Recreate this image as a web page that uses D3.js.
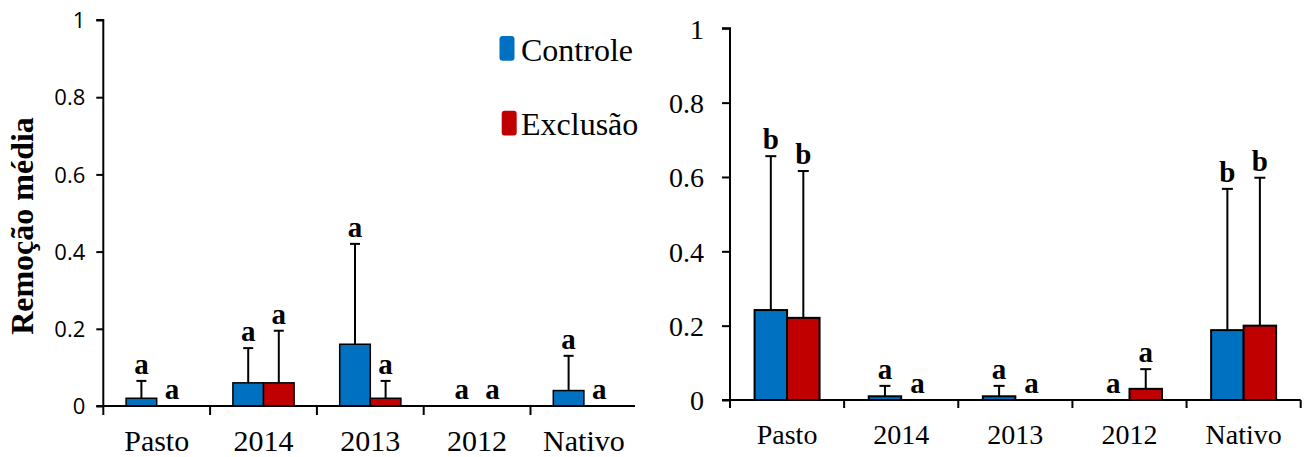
<!DOCTYPE html>
<html><head><meta charset="utf-8">
<script src="https://cdn.jsdelivr.net/npm/d3@7"></script>
<style>body{margin:0;background:#fff;}svg{display:block;}</style>
</head><body>
<svg id="chart" width="1312" height="457"></svg>
<script>
// ---- data ----
const categories = ["Pasto", "2014", "2013", "2012", "Nativo"];
const seriesNames = ["Controle", "Exclusão"];
const yTicks = [0, 0.2, 0.4, 0.6, 0.8, 1];

// left panel
const leftControle = [0.02, 0.06, 0.16, 0, 0.04];
const leftControleErr = [0.045, 0.09, 0.26, 0, 0.09];
const leftExclusao = [0, 0.06, 0.02, 0, 0];
const leftExclusaoErr = [0, 0.135, 0.045, 0, 0];
const leftLettersControle = ["a", "a", "a", "a", "a"];
const leftLettersExclusao = ["a", "a", "a", "a", "a"];

// right panel
const rightControle = [0.242, 0.01, 0.01, 0, 0.188];
const rightControleErr = [0.414, 0.028, 0.028, 0, 0.38];
const rightExclusao = [0.221, 0, 0, 0.03, 0.2];
const rightExclusaoErr = [0.395, 0, 0, 0.053, 0.398];
const rightLettersControle = ["b", "a", "a", "a", "b"];
const rightLettersExclusao = ["b", "a", "a", "a", "b"];

const colors = ["#0070C0", "#C00000"];

const svg = d3.select("#chart");

function panel(cfg) {
  const x = d3.scaleBand(categories, [cfg.x0, cfg.x1]);
  const y = d3.scaleLinear([0, 1], [cfg.y0, cfg.y1]);
  const g = svg.append("g");
  const series = [
    {vals: cfg.c, err: cfg.ce, letters: cfg.lc, color: colors[0], off: -cfg.bw},
    {vals: cfg.e, err: cfg.ee, letters: cfg.le, color: colors[1], off: 0}
  ];
  series.forEach(s => {
    categories.forEach((cat, i) => {
      const cx = x(cat) + x.bandwidth() / 2 + s.off;
      const v = s.vals[i];
      if (v > 0) {
        g.append("rect")
          .attr("x", cx).attr("y", y(v))
          .attr("width", cfg.bw).attr("height", y(0) - y(v))
          .attr("fill", s.color).attr("stroke", "#000").attr("stroke-width", cfg.sw);
      }
      const top = v + s.err[i];
      if (s.err[i] > 0) {
        const mx = cx + cfg.bw / 2;
        g.append("line").attr("x1", mx).attr("x2", mx)
          .attr("y1", y(v)).attr("y2", y(top))
          .attr("stroke", "#000").attr("stroke-width", 2);
        g.append("line").attr("x1", mx - cfg.cap / 2).attr("x2", mx + cfg.cap / 2)
          .attr("y1", y(top)).attr("y2", y(top))
          .attr("stroke", "#000").attr("stroke-width", 2);
      }
      g.append("text")
        .attr("x", cx + cfg.bw / 2).attr("y", y(top) - 7)
        .attr("text-anchor", "middle")
        .attr("font-family", "'Liberation Serif', serif").attr("font-weight", "bold")
        .attr("font-size", cfg.letterSize).attr("fill", "#000")
        .text(s.letters[i]);
    });
  });

  // y axis
  const ya = d3.axisLeft(y).tickValues(yTicks).tickFormat(d3.format("~g"))
    .tickSize(cfg.yTickLen).tickPadding(cfg.yPad);
  const yg = g.append("g").attr("transform", `translate(${cfg.x0},0)`).call(ya);
  yg.selectAll("path").attr("stroke", "#000").attr("stroke-width", 2)
    .attr("d", `M${-cfg.yTickLen},${cfg.y1}H0V${cfg.y0}`);
  yg.selectAll(".tick line").attr("stroke", "#000").attr("stroke-width", 2);
  yg.selectAll(".tick text").attr("font-family", cfg.yFont).attr("font-size", cfg.yFontSize)
    .attr("fill", "#000").attr("dy", "0.35em");

  // x axis line
  g.append("line").attr("x1", cfg.x0 - cfg.yTickLen).attr("x2", cfg.xEnd)
    .attr("y1", y(0)).attr("y2", y(0)).attr("stroke", "#000").attr("stroke-width", 2);
  // boundary ticks
  const bounds = categories.map(c => x(c)).concat(cfg.endTick ? [cfg.x1] : []);
  g.selectAll(".bt").data(bounds).join("line")
    .attr("x1", d => d).attr("x2", d => d)
    .attr("y1", y(0)).attr("y2", y(0) + cfg.xTickLen)
    .attr("stroke", "#000").attr("stroke-width", 2);
  // x labels
  const xa = d3.axisBottom(x).tickSize(0).tickPadding(0);
  const xg = g.append("g").attr("transform", `translate(0,${cfg.xLabelY})`).call(xa);
  xg.select(".domain").remove();
  xg.selectAll(".tick text").attr("font-family", "'Liberation Serif', serif")
    .attr("font-size", cfg.xFontSize).attr("fill", "#000").attr("dy", 0);
  return g;
}

panel({
  x0: 103.3, x1: 637.3, xEnd: 635, y0: 406, y1: 20, bw: 30.6, cap: 10, sw: 1.5,
  c: leftControle, ce: leftControleErr, e: leftExclusao, ee: leftExclusaoErr,
  lc: leftLettersControle, le: leftLettersExclusao, letterSize: 29,
  yTickLen: 7, yPad: 11, yFont: "'Open Sans', sans-serif", yFontSize: 22,
  xTickLen: 9, endTick: false, xLabelY: 451, xFontSize: 30
});

panel({
  x0: 730, x1: 1300.7, xEnd: 1300.7, y0: 400, y1: 28.3, bw: 32.5, cap: 11, sw: 2,
  c: rightControle, ce: rightControleErr, e: rightExclusao, ee: rightExclusaoErr,
  lc: rightLettersControle, le: rightLettersExclusao, letterSize: 29,
  yTickLen: 8, yPad: 18, yFont: "'Liberation Serif', serif", yFontSize: 28,
  xTickLen: 8, endTick: true, xLabelY: 444, xFontSize: 28
});

// y title
svg.append("text")
  .attr("transform", "translate(33,226) rotate(-90)")
  .attr("text-anchor", "middle")
  .attr("font-family", "'Liberation Serif', serif").attr("font-weight", "bold")
  .attr("font-size", 32).attr("fill", "#000")
  .text("Remoção média");

// legend
const legendPos = [{rx: 499.5, ry: 36, tx: 521, ty: 60.5}, {rx: 501.7, ry: 110.7, tx: 521, ty: 134.5}];
seriesNames.forEach((name, i) => {
  const p = legendPos[i];
  svg.append("rect").attr("x", p.rx).attr("y", p.ry).attr("width", 15).attr("height", 24.7)
    .attr("rx", 3).attr("fill", colors[i]);
  svg.append("text").attr("x", p.tx).attr("y", p.ty)
    .attr("font-family", "'Liberation Serif', serif").attr("font-size", 32).attr("fill", "#000")
    .text(name);
});
</script>
</body></html>
